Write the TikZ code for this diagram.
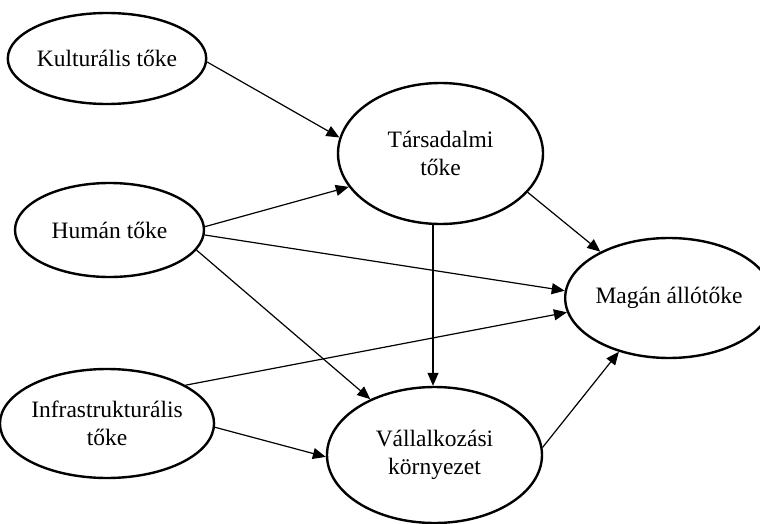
\documentclass[tikz,border=0pt]{standalone}
\usepackage{fontspec}
\setmainfont{Liberation Serif}
\usetikzlibrary{arrows.meta,shapes.geometric,calc}
\begin{document}
\begin{tikzpicture}[x=1pt,y=-1pt,
  ell/.style={draw,ellipse,line width=2.4pt,inner sep=0pt,align=center,
    font=\fontsize{23.5}{28.5}\selectfont},
  conn/.style={line width=1.2pt,-{Triangle[length=13pt,width=11pt]}}]
\useasboundingbox (0,0) rectangle (760,524);
\node[ell,minimum width=192pt,minimum height=91pt] (kul) at (107,58.5) {Kulturális tőke};
\node[ell,minimum width=189pt,minimum height=94pt] (hum) at (109.5,230) {Humán tőke};
\node[ell,minimum width=194pt,minimum height=109pt] (inf) at (107,423.5) {Infrastrukturális\\tőke};
\node[ell,minimum width=205pt,minimum height=141pt] (tar) at (440.5,153.5) {Társadalmi\\tőke};
\node[ell,minimum width=176pt,minimum height=120pt] (mag) at (669,298) {Magán állótőke};
\node[ell,minimum width=215pt,minimum height=136pt] (val) at (434.5,455) {Vállalkozási\\környezet};
\coordinate (vx) at (433,0);
\draw[conn] (kul.-2) -- (tar.171);
\draw[conn] (hum.2) -- (tar.200);
\draw[conn] (hum.-3) -- (mag.176);
\draw[conn] (hum.-13) -- (val.139);
\draw[conn] (tar.south -| vx) -- (val.north -| vx);
\draw[conn] (tar.-24) -- (mag.146);
\draw[conn] (inf.26) -- (mag.188);
\draw[conn] (inf.-2) -- (val.181);
\draw[conn] (val.4) -- (mag.227);
\end{tikzpicture}
\end{document}
